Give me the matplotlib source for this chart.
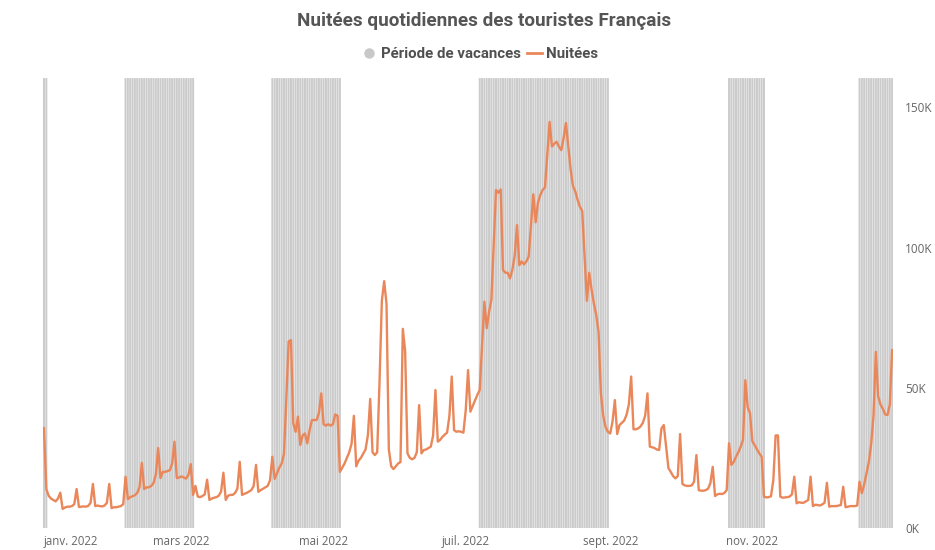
import matplotlib.pyplot as plt
import pandas as pd
from matplotlib.lines import Line2D

plt.rcParams["font.family"] = ["Open Sans", "DejaVu Sans"]

# -------------------------
# Data
# -------------------------

# nuitées par jour en milliers, une ligne par semaine (sam. -> ven.), début sam. 1 janv. 2022
nuitees_k = [
    35.6, 13.9, 11.5, 10.5, 10.0, 9.5, 10.5,
    12.6, 6.8, 7.3, 7.6, 7.6, 7.8, 8.5,
    13.9, 7.5, 7.6, 7.7, 7.6, 7.9, 9.0,
    15.7, 7.8, 8.0, 7.8, 7.7, 8.0, 9.0,
    15.7, 7.1, 7.4, 7.4, 7.6, 7.8, 8.5,
    18.3, 10.3, 11.0, 11.3, 11.7, 12.5, 14.5,
    23.2, 13.9, 14.5, 14.5, 15.0, 16.0, 19.0,
    28.5, 17.8, 20.0, 20.0, 20.3, 20.6, 23.0,
    30.8, 17.8, 18.0, 18.4, 18.0, 17.6, 19.0,
    22.8, 11.8, 15.0, 11.2, 11.0, 11.4, 12.0,
    17.2, 10.0, 10.5, 10.8, 11.0, 11.5, 13.0,
    19.7, 10.0, 11.5, 11.8, 11.8, 12.5, 14.0,
    23.6, 11.8, 12.2, 12.5, 13.0, 13.5, 15.0,
    22.5, 12.9, 13.5, 14.0, 14.5, 15.0, 17.0,
    25.4, 17.5, 19.5, 21.5, 23.0, 26.5, 46.0,
    66.5, 67.0, 37.3, 34.3, 39.7, 29.6, 33.0,
    33.7, 30.2, 34.9, 38.5, 38.5, 38.5, 41.0,
    48.0, 37.0, 36.5, 37.0, 36.5, 37.0, 40.5,
    40.0, 20.0, 21.5, 23.0, 25.0, 27.0, 30.0,
    40.0, 22.0, 24.0, 25.0, 26.5, 28.0, 33.0,
    46.0, 27.0, 26.0, 27.0, 52.0, 81.0, 88.0,
    80.0, 28.0, 22.0, 21.0, 22.0, 23.0, 23.5,
    71.0, 63.0, 26.6, 25.0, 24.5, 25.0, 27.0,
    43.8, 26.6, 27.8, 28.0, 28.5, 29.0, 33.0,
    49.2, 30.8, 31.4, 32.5, 33.3, 34.0, 40.0,
    54.0, 34.9, 34.3, 34.5, 34.3, 34.0, 42.0,
    56.3, 41.5, 43.5, 45.5, 47.5, 49.2, 65.0,
    80.7, 71.2, 77.0, 81.3, 101.0, 120.5, 119.5,
    120.7, 92.0, 91.0, 91.0, 89.0, 92.0, 97.0,
    108.0, 93.7, 95.0, 94.0, 95.0, 96.7, 108.0,
    119.0, 109.0, 116.0, 118.7, 120.5, 121.4, 133.0,
    144.8, 136.0, 137.0, 137.7, 136.0, 134.7, 139.0,
    144.4, 136.0, 128.0, 122.0, 120.0, 117.0, 114.5,
    113.0, 97.0, 81.0, 91.0, 85.0, 80.0, 76.0,
    70.0, 48.0, 40.0, 36.0, 34.3, 33.7, 38.0,
    45.6, 33.5, 36.7, 37.5, 38.3, 40.3, 44.0,
    54.0, 35.2, 35.2, 35.5, 36.2, 37.5, 40.0,
    48.0, 29.0, 28.8, 28.5, 28.0, 27.8, 35.5,
    36.7, 29.0, 21.3, 20.0, 18.5, 17.7, 18.5,
    33.5, 15.7, 15.2, 15.0, 15.0, 15.2, 16.5,
    26.0, 13.5, 13.3, 13.3, 13.5, 14.0, 16.0,
    21.8, 11.4, 12.0, 12.2, 12.1, 12.5, 13.5,
    30.2, 22.5, 23.5, 25.4, 27.0, 29.0, 31.4,
    52.7, 43.0, 41.0, 31.0, 29.5, 28.0, 26.6,
    25.4, 11.2, 10.9, 11.0, 11.3, 17.0, 33.0,
    33.0, 11.2, 10.8, 10.9, 11.0, 11.2, 12.0,
    18.3, 8.8, 9.2, 9.0, 9.0, 9.5, 10.0,
    18.3, 7.8, 8.3, 8.2, 8.0, 8.4, 9.0,
    16.1, 7.6, 7.8, 7.8, 7.8, 8.0, 8.2,
    14.7, 7.4, 7.6, 7.8, 7.8, 7.8, 8.0,
    16.5, 12.4, 15.5, 19.5, 23.5, 30.0, 40.0,
    62.8, 47.0, 44.0, 42.5, 40.5, 40.3, 44.0,
    63.4,
]

vacances_debut = ["2022-01-01", "2022-02-05", "2022-04-09", "2022-07-07", "2022-10-22", "2022-12-17"]
vacances_fin = ["2022-01-02", "2022-03-06", "2022-05-08", "2022-08-31", "2022-11-06", "2022-12-31"]

mois_ticks = ["2022-01-01", "2022-03-01", "2022-05-01", "2022-07-01", "2022-09-01", "2022-11-01"]
mois_labels = ["janv. 2022", "mars 2022", "mai 2022", "juil. 2022", "sept. 2022", "nov. 2022"]

y_ticks = [0, 50000, 100000, 150000]
y_labels = ["0K", "50K", "100K", "150K"]

# -------------------------
# Prep
# -------------------------

jours = pd.date_range("2022-01-01", periods=len(nuitees_k), freq="D")
nuitees = [v * 1000 for v in nuitees_k]

en_vacances = [0] * len(jours)
for debut, fin in zip(vacances_debut, vacances_fin):
    for i, j in enumerate(jours):
        if pd.Timestamp(debut) <= j <= pd.Timestamp(fin):
            en_vacances[i] = 1

orange = "#EA875A"
gris_txt = "#666666"

# -------------------------
# Plot
# -------------------------

fig = plt.figure(figsize=(9.35, 5.5), dpi=100)

ax_bg = fig.add_axes([0.0458, 0.04, 0.9096, 0.818])
# snap=False keeps the thin white gaps between days evenly anti-aliased
ax_bg.bar(jours, en_vacances, width=0.85, color="#cbcbcb", linewidth=0, snap=False)
ax_bg.set_ylim(0, 1)
ax_bg.set_xlim(jours[0] - pd.Timedelta(hours=12), jours[-1] + pd.Timedelta(hours=12))
ax_bg.set_yticks([])

ax_bg.set_xticks(pd.to_datetime(mois_ticks))
ax_bg.set_xticklabels(mois_labels)
ax_bg.tick_params(axis="x", length=0, pad=5, labelsize=8.3, labelcolor=gris_txt)
ax_bg.get_xticklabels()[0].set_ha("left")

ax = ax_bg.twinx()
ax.plot(jours, nuitees, color=orange, linewidth=1.7)
ax.set_ylim(0, 160400)
ax.set_yticks(y_ticks)
ax.set_yticklabels(y_labels)
ax.tick_params(axis="y", length=0, pad=8.5, labelsize=8.5, labelcolor=gris_txt)

for a in (ax_bg, ax):
    for s in a.spines.values():
        s.set_visible(False)

fig.text(0.518, 0.962, "Nuitées quotidiennes des touristes Français",
         ha="center", va="center", fontsize=13.6, fontweight="bold",
         family=["Roboto", "DejaVu Sans"], color="#555555")

handles = [
    Line2D([], [], marker="o", linestyle="none", markerfacecolor="#c8c8c8",
           markeredgecolor="none", markersize=7.5),
    Line2D([], [], color=orange, linewidth=2),
]
fig.legend(handles, ["Période de vacances", "Nuitées"],
           loc="center", bbox_to_anchor=(0.513, 0.901), ncol=2, frameon=False,
           handlelength=1.0, handletextpad=0.3, columnspacing=0.4,
           prop={"family": ["Roboto", "DejaVu Sans"], "weight": "bold", "size": 10.8},
           labelcolor="#505050")

plt.savefig("out.png", dpi=100)
plt.close()
